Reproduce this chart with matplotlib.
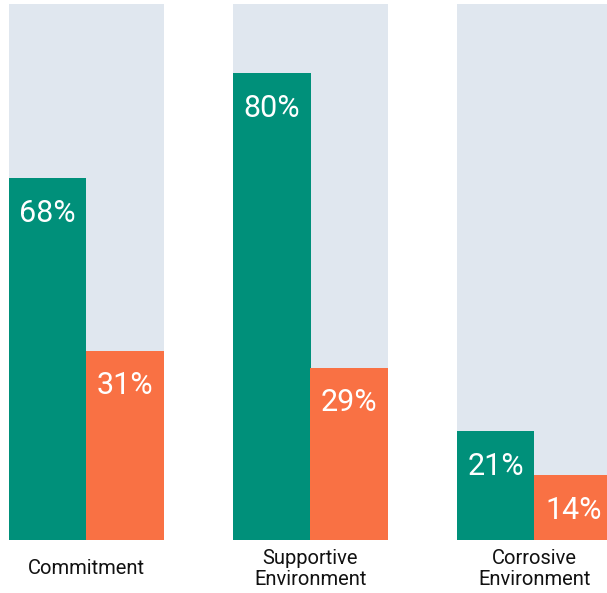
import matplotlib.pyplot as plt
import numpy as np

categories = ['Commitment', 'Supportive\nEnvironment', 'Corrosive\nEnvironment']
green_vals = [67.5, 87.1, 20.3]
orange_vals = [35.3, 32.1, 12.1]
green_labels = ['68%', '80%', '21%']
orange_labels = ['31%', '29%', '14%']

Green = '#00907a'
Orange = '#f97144'
Panel = '#e0e7ef'
FontSize = 22

plt.rcParams['font.family'] = ['Roboto', 'DejaVu Sans']

fig = plt.figure(figsize=(6.07, 5.93), dpi=100)
ax = fig.add_axes([0, 53/593, 1, 536/593])

x = np.arange(len(categories))
w = 77.5/224

ax.bar(x, [100]*len(x), width=2*w, color=Panel, zorder=1)
ax.bar(x - w/2, green_vals, width=w, color=Green, zorder=2)
ax.bar(x + w/2, orange_vals, width=w, color=Orange, zorder=2)

off = 35/5.36
for i in range(len(x)):
	ax.text(x[i] - w/2, green_vals[i] - off, green_labels[i], color='white',
		fontsize=FontSize, ha='center', va='center', zorder=3)
	ax.text(x[i] + w/2, orange_vals[i] - off, orange_labels[i], color='white',
		fontsize=FontSize, ha='center', va='center', zorder=3)
	ax.text(x[i], -29/5.36, categories[i], color='#111111', fontsize=14.5,
		ha='center', va='center', linespacing=1.15, clip_on=False)

ax.set_xlim(-86.5/224, (607 - 86.5)/224)
ax.set_ylim(0, 100)
ax.axis('off')

fig.savefig('out.png', dpi=100)
